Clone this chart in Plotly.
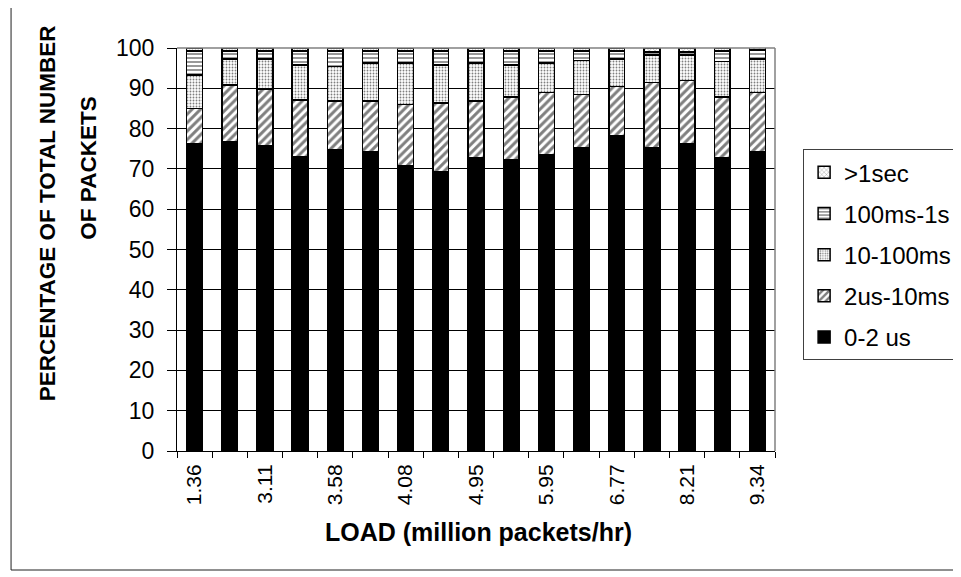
import plotly.graph_objects as go

# ---- data (percent of packets per delay class, per load level) ----
positions = list(range(1, 18))
tick_positions = [1, 3, 5, 7, 9, 11, 13, 15, 17]
tick_labels = ["1.36", "3.11", "3.58", "4.08", "4.95", "5.95", "6.77", "8.21", "9.34"]

d_0_2us = [76.3, 76.7, 75.8, 72.9, 74.8, 74.2, 70.8, 69.3, 72.8, 72.3, 73.6, 75.3, 78.2, 75.3, 76.3, 72.8, 74.2]
d_2us_10ms = [8.7, 14.1, 14.0, 14.2, 12.1, 12.7, 15.2, 17.1, 14.1, 15.6, 15.4, 13.2, 12.2, 16.2, 15.6, 15.1, 14.8]
d_10_100ms = [8.3, 6.5, 7.5, 8.7, 8.5, 9.4, 10.3, 9.4, 9.4, 7.9, 7.3, 8.4, 6.9, 6.8, 6.4, 8.8, 8.3]
d_100ms_1s = [5.9, 1.9, 1.9, 3.4, 3.8, 2.9, 2.9, 3.4, 2.9, 3.4, 2.9, 2.3, 1.9, 0.7, 0.7, 2.5, 2.2]
d_gt_1s = [0.8, 0.8, 0.8, 0.8, 0.8, 0.8, 0.8, 0.8, 0.8, 0.8, 0.8, 0.8, 0.8, 1.0, 1.0, 0.8, 0.8]

FONT = "Liberation Sans, Arial, sans-serif"
line = dict(color="black", width=1.5)

series = [
    ("0-2 us", d_0_2us, dict(color="black", line=line)),
    ("2us-10ms", d_2us_10ms, dict(color="white", line=line,
                                  pattern=dict(shape="/", fgcolor="black", bgcolor="white", size=6, solidity=0.5))),
    ("10-100ms", d_10_100ms, dict(color="white", line=line,
                                  pattern=dict(shape=".", fgcolor="black", bgcolor="white", size=3, solidity=0.3))),
    ("100ms-1s", d_100ms_1s, dict(color="white", line=line,
                                  pattern=dict(shape="-", fgcolor="black", bgcolor="white", size=4, solidity=0.4))),
    (">1sec", d_gt_1s, dict(color="white", line=line,
                            pattern=dict(shape="x", fgcolor="black", bgcolor="white", size=4, solidity=0.2))),
]

fig = go.Figure()
n = len(series)
for i, (name, vals, marker) in enumerate(series):
    fig.add_trace(go.Bar(x=positions, y=vals, name=name, marker=marker,
                         legendgroup=name, legendrank=n - i))

fig.update_layout(
    barmode="stack",
    bargap=0.55,
    width=961, height=577,
    margin=dict(l=169, r=183, t=40, b=134),
    paper_bgcolor="white", plot_bgcolor="white",
    font=dict(family=FONT, size=21, color="black"),
    showlegend=True,
    legend=dict(x=1.047, y=0.749, xanchor="left", yanchor="top",
                bordercolor="#404040", borderwidth=1, bgcolor="white",
                traceorder="grouped", tracegroupgap=7,
                font=dict(family=FONT, size=24, color="black")),
    xaxis=dict(range=[0.5, 17.5], tickmode="array", tickvals=tick_positions, ticktext=tick_labels,
               tickangle=-90, ticks="", showgrid=False, zeroline=False,
               showline=True, linecolor="black", linewidth=1,
               ticklabelstandoff=4,
               tickfont=dict(family=FONT, size=21),
               minor=dict(tickmode="linear", tick0=0.5, dtick=1, ticks="outside", ticklen=6,
                          tickcolor="black", tickwidth=1, showgrid=False)),
    yaxis=dict(range=[0, 100], dtick=10, ticks="outside", ticklen=9, tickcolor="black",
               showgrid=True, gridcolor="black", gridwidth=1, zeroline=False,
               showline=True, linecolor="black", linewidth=1,
               ticklabelstandoff=8,
               tickfont=dict(family=FONT, size=23)),
    shapes=[
        dict(type="line", xref="paper", yref="paper", x0=0, x1=1, y0=1, y1=1,
             line=dict(color="#808080", width=1.5)),
        dict(type="line", xref="paper", yref="paper", x0=1, x1=1, y0=0, y1=1,
             line=dict(color="#808080", width=1.5)),
        dict(type="rect", xref="paper", yref="paper", x0=-0.2775, x1=1.35, y0=-0.2953, y1=1.1042,
             line=dict(color="#202020", width=1), layer="below"),
    ],
    annotations=[
        dict(text="<b>LOAD (million packets/hr)</b>", xref="paper", yref="paper",
             x=0.504, y=-0.201, xanchor="center", yanchor="middle", showarrow=False,
             font=dict(family=FONT, size=25)),
        dict(text="<b>PERCENTAGE OF TOTAL NUMBER</b>", xref="paper", yref="paper",
             x=-0.2151, y=0.5906, xanchor="center", yanchor="middle", showarrow=False,
             textangle=-90, font=dict(family=FONT, size=22.5)),
        dict(text="<b>OF PACKETS</b>", xref="paper", yref="paper",
             x=-0.1494, y=0.7022, xanchor="center", yanchor="middle", showarrow=False,
             textangle=-90, font=dict(family=FONT, size=22.5)),
    ],
)

fig.write_html("out.html")
